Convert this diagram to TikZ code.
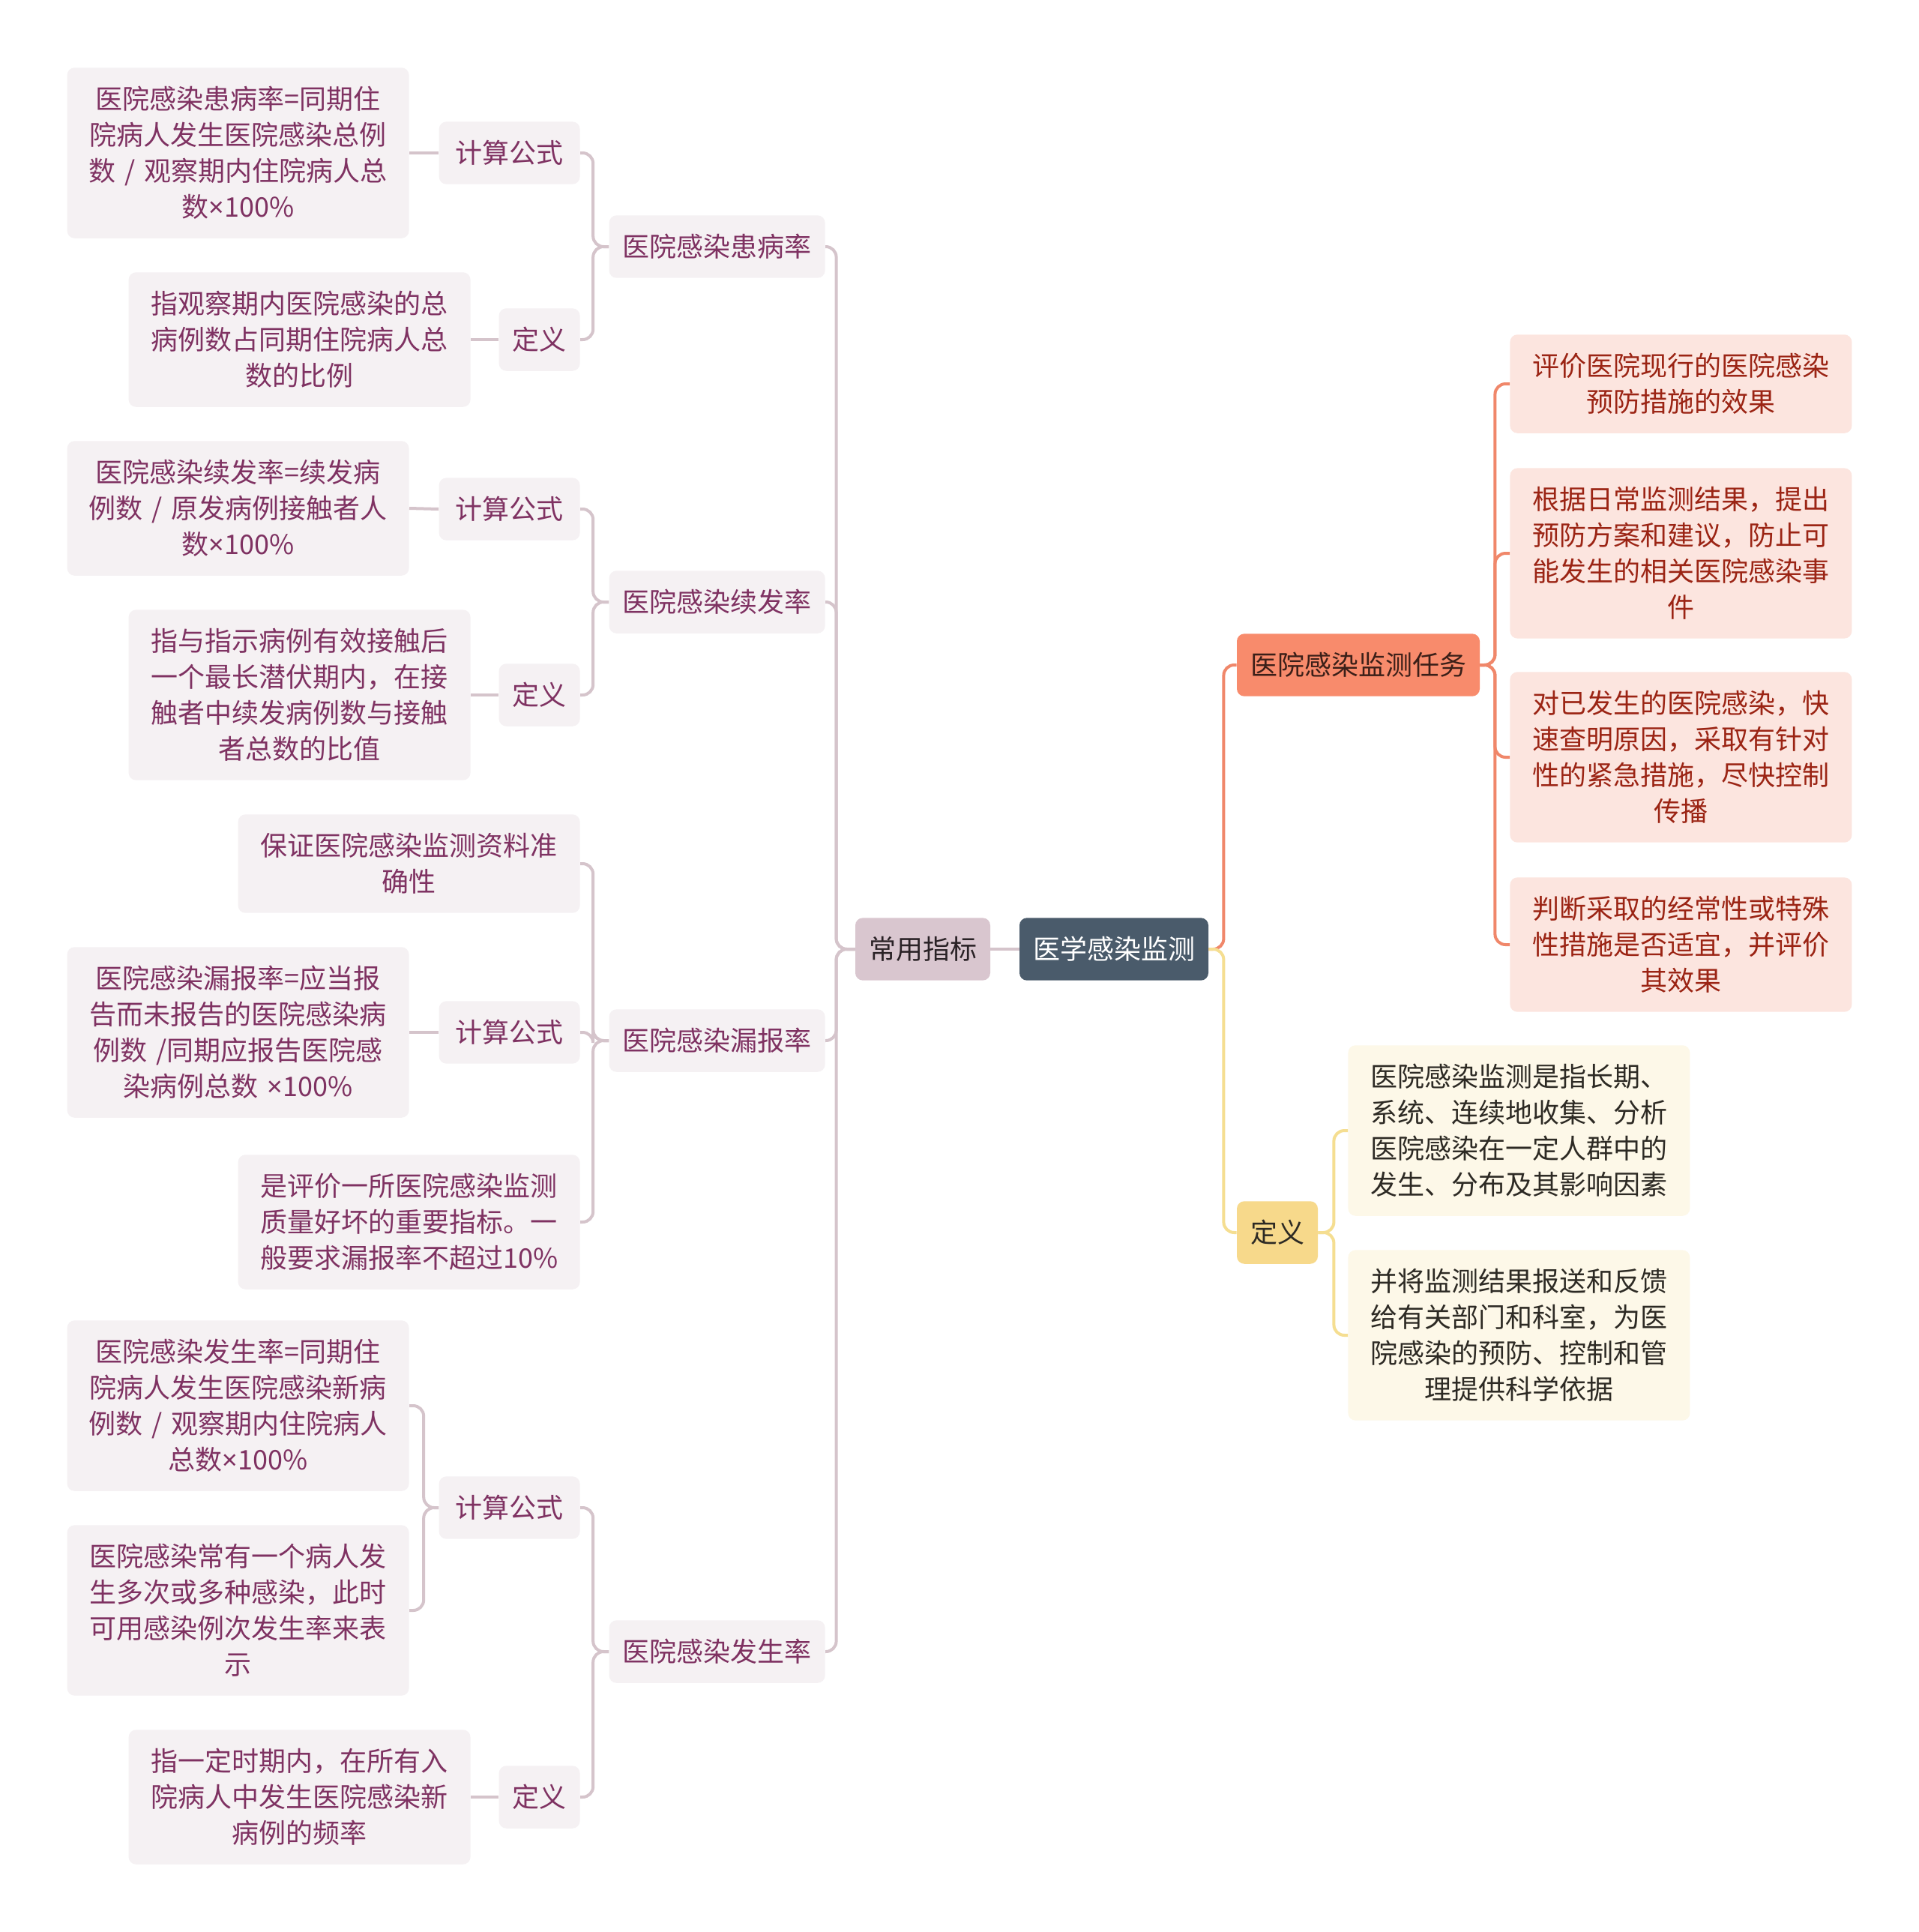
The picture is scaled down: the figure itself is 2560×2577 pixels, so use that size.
\documentclass[tikz,border=0pt]{standalone}
\usepackage{fontspec}
\setmainfont{Noto Sans CJK SC}
\newfontfamily\latinfont{Noto Sans}
\usepackage{tikz}
\definecolor{rootbg}{HTML}{4A5B6B}
\definecolor{idxbg}{HTML}{D9C6CF}
\definecolor{idxtext}{HTML}{2A2226}
\definecolor{greyleaf}{HTML}{F5F1F3}
\definecolor{plumtext}{HTML}{7F3262}
\definecolor{plumline}{HTML}{D5C4CB}
\definecolor{taskbg}{HTML}{F88B6C}
\definecolor{tasktitle}{HTML}{3B1F18}
\definecolor{taskleaf}{HTML}{FCE5DF}
\definecolor{tasktext}{HTML}{9B2414}
\definecolor{taskline}{HTML}{F0876A}
\definecolor{defbg}{HTML}{F7D98B}
\definecolor{defleaf}{HTML}{FDF8E8}
\definecolor{deftext}{HTML}{2D2A24}
\definecolor{defline}{HTML}{F5DE91}
\newcommand{\tms}{{\latinfont ×}}

\begin{document}
\begin{tikzpicture}[x=0.5pt,y=-0.5pt,
  box/.style={rounded corners=5pt,inner xsep=9pt,inner ysep=12.5pt,align=center,
    font=\fontsize{18pt}{24pt}\selectfont},
  grey/.style={box,fill=greyleaf,text=plumtext},
  calcbox/.style={grey,inner xsep=11pt},
  leaf/.style={grey,text width=200pt,inner xsep=14pt},
  taskleafbox/.style={leaf,fill=taskleaf,text=tasktext},
  defleafbox/.style={leaf,fill=defleaf,text=deftext},
  link/.style={line width=2pt,draw=plumline,rounded corners=7pt},
]
\fill[white] (0,0) rectangle (2560,2577);
\useasboundingbox (0,0) rectangle (2560,2577);
% centre
\node[box,fill=rootbg,text=white] (root) at (1486,1266) {医学感染监测};
\node[box,fill=idxbg,text=idxtext] (idx) at (1231,1266) {常用指标};
% rates
\node[grey,anchor=east] (rate1) at (1101,329) {医院感染患病率};
\node[grey,anchor=east] (rate2) at (1101,803) {医院感染续发率};
\node[grey,anchor=east] (rate3) at (1101,1388) {医院感染漏报率};
\node[grey,anchor=east] (rate4) at (1101,2203) {医院感染发生率};
% formula / definition
\node[calcbox,anchor=east] (calc1) at (774,204) {计算公式};
\node[grey,anchor=east] (def1) at (774,453) {定义};
\node[calcbox,anchor=east] (calc2) at (774,679) {计算公式};
\node[grey,anchor=east] (def2) at (774,927) {定义};
\node[leaf,anchor=east] (note1) at (774,1152) {保证医院感染监测资料准\\确性};
\node[calcbox,anchor=east] (calc3) at (774,1377) {计算公式};
\node[leaf,anchor=east] (note2) at (774,1630) {是评价一所医院感染监测\\质量好坏的重要指标。一\\般要求漏报率不超过10\%};
\node[calcbox,anchor=east] (calc4) at (774,2011) {计算公式};
\node[grey,anchor=east] (def4) at (774,2397) {定义};
% leaves
\node[leaf,anchor=east] (f1) at (546,204) {医院感染患病率=同期住\\院病人发生医院感染总例\\数 / 观察期内住院病人总\\数\tms100\%};
\node[leaf,anchor=east] (d1) at (628,453) {指观察期内医院感染的总\\病例数占同期住院病人总\\数的比例};
\node[leaf,anchor=east] (f2) at (546,678) {医院感染续发率=续发病\\例数 / 原发病例接触者人\\数\tms100\%};
\node[leaf,anchor=east] (d2) at (628,927) {指与指示病例有效接触后\\一个最长潜伏期内，在接\\触者中续发病例数与接触\\者总数的比值};
\node[leaf,anchor=east] (f3) at (546,1377) {医院感染漏报率=应当报\\告而未报告的医院感染病\\例数 /同期应报告医院感\\染病例总数 \tms100\%};
\node[leaf,anchor=east] (f4) at (546,1875) {医院感染发生率=同期住\\院病人发生医院感染新病\\例数 / 观察期内住院病人\\总数\tms100\%};
\node[leaf,anchor=east] (f5) at (546,2148) {医院感染常有一个病人发\\生多次或多种感染，此时\\可用感染例次发生率来表\\示};
\node[leaf,anchor=east] (d4) at (628,2397) {指一定时期内，在所有入\\院病人中发生医院感染新\\病例的频率};
% right side
\node[box,fill=taskbg,text=tasktitle] (task) at (1812,887) {医院感染监测任务};
\node[taskleafbox,anchor=west] (t1) at (2014,512) {评价医院现行的医院感染\\预防措施的效果};
\node[taskleafbox,anchor=west] (t2) at (2014,738) {根据日常监测结果，提出\\预防方案和建议，防止可\\能发生的相关医院感染事\\件};
\node[taskleafbox,anchor=west] (t3) at (2014,1010) {对已发生的医院感染，快\\速查明原因，采取有针对\\性的紧急措施，尽快控制\\传播};
\node[taskleafbox,anchor=west] (t4) at (2014,1260) {判断采取的经常性或特殊\\性措施是否适宜，并评价\\其效果};
\node[box,fill=defbg,text=deftext] (defn) at (1704,1644) {定义};
\node[defleafbox,anchor=west] (y1) at (1798,1508) {医院感染监测是指长期、\\系统、连续地收集、分析\\医院感染在一定人群中的\\发生、分布及其影响因素};
\node[defleafbox,anchor=west] (y2) at (1798,1781) {并将监测结果报送和反馈\\给有关部门和科室，为医\\院感染的预防、控制和管\\理提供科学依据};
% connectors, left
\draw[link] (root.west) -- (idx.east);
\foreach \r in {rate1,rate2,rate3,rate4}
  \draw[link] (idx.west) -- ++(-25,0) |- (\r.east);
\foreach \c in {calc1,def1}
  \draw[link] (rate1.west) -- ++(-21,0) |- (\c.east);
\foreach \c in {calc2,def2}
  \draw[link] (rate2.west) -- ++(-21,0) |- (\c.east);
\foreach \c in {note1,calc3,note2}
  \draw[link] (rate3.west) -- ++(-21,0) |- (\c.east);
\foreach \c in {calc4,def4}
  \draw[link] (rate4.west) -- ++(-21,0) |- (\c.east);
\draw[link] (calc1.west) -- (f1.east);
\draw[link] (def1.west) -- (d1.east);
\draw[link] (calc2.west) -- (f2.east);
\draw[link] (def2.west) -- (d2.east);
\draw[link] (calc3.west) -- (f3.east);
\foreach \f in {f4,f5}
  \draw[link] (calc4.west) -- ++(-20,0) |- (\f.east);
\draw[link] (def4.west) -- (d4.east);
% connectors, right
\draw[link,draw=taskline] (root.east) -- ++(20,0) |- (task.west);
\draw[link,draw=defline] (root.east) -- ++(20,0) |- (defn.west);
\foreach \t in {t1,t2,t3,t4}
  \draw[link,draw=taskline] (task.east) -- ++(20,0) |- (\t.west);
\foreach \y in {y1,y2}
  \draw[link,draw=defline] (defn.east) -- ++(21,0) |- (\y.west);
\end{tikzpicture}
\end{document}
